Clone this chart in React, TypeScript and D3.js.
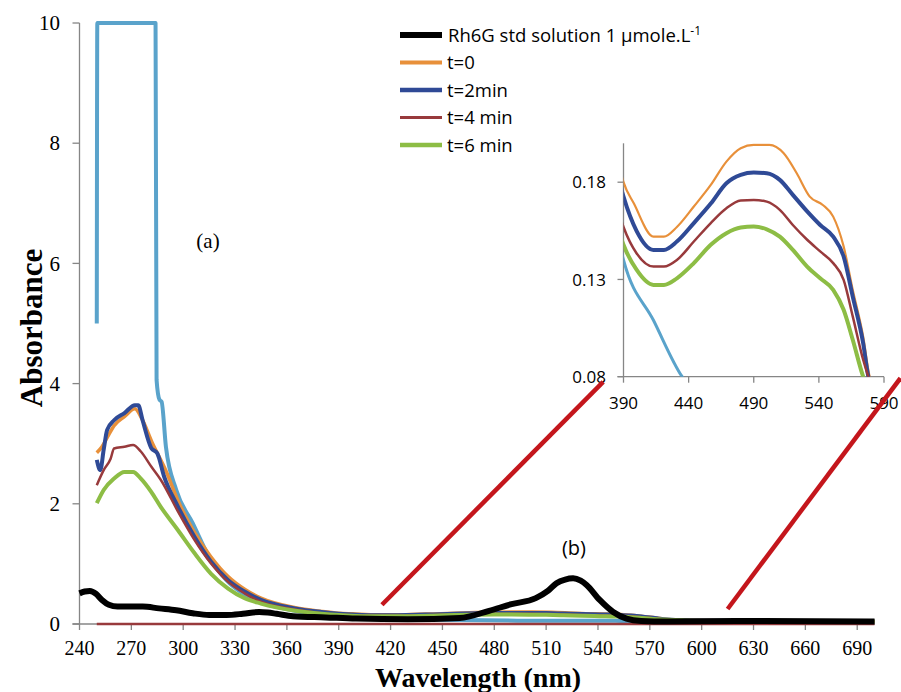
import * as d3 from "d3";

type Pt = [number, number];

// Rh6G standard solution (black)
const rh6gStd: Pt[] = [
  [240, 0.51], [243, 0.54], [246, 0.55], [249.6, 0.5], [253, 0.4], [257, 0.32], [262, 0.29],
  [267, 0.29], [276.6, 0.29], [286, 0.26], [296, 0.23], [305.5, 0.18], [315, 0.15], [325, 0.15],
  [334.5, 0.17], [344, 0.2], [349, 0.19], [354, 0.17], [363.5, 0.13], [382.5, 0.11], [400, 0.09],
  [430, 0.08], [460, 0.1], [477, 0.22], [490, 0.33], [504, 0.43], [511, 0.55], [516, 0.68],
  [521, 0.74], [525.6, 0.76], [530, 0.72], [533.4, 0.65], [541, 0.4], [548.8, 0.2], [556.5, 0.09],
  [565, 0.05], [580, 0.04], [620, 0.05], [700, 0.04],
];

const t0: Pt[] = [
  [250, 2.85], [253, 2.95], [256, 3.1], [260, 3.3], [266, 3.45], [272, 3.58], [276, 3.42],
  [282, 3.02], [290, 2.55], [297, 2.05], [306, 1.55], [316, 1.12], [326, 0.79], [336, 0.57],
  [345, 0.43], [365, 0.27], [380, 0.21], [390, 0.18], [398, 0.169], [413, 0.152], [421, 0.152],
  [431, 0.157], [444, 0.1675], [457, 0.1786], [469, 0.1906], [480, 0.1975], [490, 0.1992],
  [502, 0.1992], [513, 0.1949], [523, 0.1846], [533, 0.1726], [543, 0.1683], [551, 0.1623],
  [559, 0.147], [566, 0.1247], [574, 0.1007], [579, 0.08], [590, 0.065], [610, 0.055],
  [650, 0.048], [700, 0.042],
];

const t2: Pt[] = [
  [250, 2.73], [252, 2.56], [254, 2.9], [256, 3.23], [260, 3.39], [266, 3.51], [272, 3.64],
  [274, 3.64], [276.5, 3.39], [281.5, 2.93], [285, 2.84], [289, 2.45], [297, 1.95], [306.5, 1.45],
  [316, 1.04], [326, 0.73], [335.5, 0.54], [345, 0.4], [364.5, 0.26], [380, 0.2], [390, 0.1726],
  [400, 0.155], [413, 0.1452], [421, 0.1452], [431, 0.1495], [444, 0.159], [457, 0.169],
  [469, 0.1795], [480, 0.1838], [490, 0.185], [500, 0.1846], [510, 0.1812], [520, 0.1735],
  [531, 0.165], [541, 0.158], [551, 0.152], [559, 0.1418], [566, 0.1212], [574, 0.0972],
  [578, 0.08], [590, 0.063], [610, 0.054], [650, 0.047], [700, 0.041],
];

const t4: Pt[] = [
  [250, 2.31], [254, 2.56], [258, 2.75], [260, 2.92], [266, 2.95], [271, 2.98], [275.5, 2.87],
  [281.5, 2.62], [287, 2.4], [297, 1.87], [306.5, 1.4], [316, 1.01], [326, 0.7], [335.5, 0.51],
  [345, 0.37], [365, 0.24], [380, 0.18], [390, 0.157], [400, 0.1435], [413, 0.1366], [421, 0.1366],
  [431, 0.14], [444, 0.1495], [457, 0.159], [469, 0.1666], [480, 0.1706], [490, 0.1709],
  [500, 0.17], [510, 0.1658], [520, 0.158], [531, 0.1504], [541, 0.1444], [551, 0.1384],
  [559, 0.1298], [566, 0.111], [574, 0.0887], [578, 0.08], [590, 0.062], [610, 0.053],
  [650, 0.046], [700, 0.04],
];

const t6: Pt[] = [
  [250, 2.01], [254, 2.23], [260, 2.42], [266, 2.53], [271, 2.53], [275.5, 2.42], [281.5, 2.2],
  [287, 1.95], [297, 1.56], [306.5, 1.18], [316, 0.84], [326, 0.59], [335.5, 0.43], [345, 0.34],
  [365, 0.22], [380, 0.17], [390, 0.1478], [400, 0.135], [413, 0.1272], [421, 0.1272],
  [431, 0.1306], [444, 0.1384], [457, 0.1478], [469, 0.1538], [480, 0.1567], [490, 0.1572],
  [500, 0.1558], [510, 0.152], [520, 0.1452], [531, 0.1366], [541, 0.1306], [551, 0.1247],
  [559, 0.1144], [566, 0.099], [574, 0.08], [590, 0.06], [610, 0.05], [650, 0.044], [700, 0.04],
];

// unlabelled light blue trace (saturates at 10)
const sample: Pt[] = [
  [250, 5.0], [250.3, 10], [284, 10], [284.6, 4.06], [286.3, 3.73], [287.5, 3.7], [290, 2.95],
  [296, 2.23], [305.5, 1.68], [315, 1.12], [325, 0.73], [334.5, 0.51], [344, 0.37], [363, 0.23],
  [380, 0.17], [390, 0.14], [413, 0.109], [435, 0.08], [460, 0.065], [500, 0.055], [550, 0.055],
  [565, 0.03], [580, 0.02], [700, 0.02],
];

const baseline: Pt[] = [[250, 0], [700, 0]];

const mainXTicks = d3.range(240, 691, 30);
const mainYTicks = [0, 2, 4, 6, 8, 10];
const insetXTicks = [390, 440, 490, 540, 590];
const insetYTicks = [0.08, 0.13, 0.18];

const legendLabels = ["t=0", "t=2min", "t=4 min", "t=6 min"];
const legendColors = ["#E8903A", "#2F4A96", "#983A3C", "#8DBD45"];
const legendWidths = [4, 4.5, 3, 4.5];

// red guide lines joining region (b) to the inset, in main data units
const guides: Pt[][] = [
  [[415, 0.32], [543, 4.03]],
  [[615, 0.25], [715, 4.09]],
];

const W = 901;
const H = 692;

export default function App() {
  const x = d3.scaleLinear().domain([240, 700]).range([79.5, 874.5]);
  const y = d3.scaleLinear().domain([0, 10]).range([624, 23]);
  const ix = d3.scaleLinear().domain([390, 590]).range([623.5, 884]);
  const iy = d3.scaleLinear().domain([0.08, 0.2]).range([376.7, 143.3]);

  const line = d3.line<Pt>().x((d) => x(d[0])).y((d) => y(d[1])).curve(d3.curveMonotoneX);
  const iline = d3.line<Pt>().x((d) => ix(d[0])).y((d) => iy(d[1])).curve(d3.curveMonotoneX);
  const straight = d3.line<Pt>().x((d) => x(d[0])).y((d) => y(d[1]));

  const mainSeries = [
    { d: sample, c: "#5AA3CB", w: 4 },
    { d: baseline, c: "#983A3C", w: 2.5 },
    { d: t0, c: legendColors[0], w: 3.5 },
    { d: t2, c: legendColors[1], w: 4 },
    { d: t4, c: legendColors[2], w: 2.5 },
    { d: t6, c: legendColors[3], w: 4 },
    { d: rh6gStd, c: "#000", w: 6 },
  ];
  const insetSeries = [
    { d: sample, c: "#5AA3CB", w: 3 },
    { d: t0, c: legendColors[0], w: 2.2 },
    { d: t2, c: legendColors[1], w: 4 },
    { d: t4, c: legendColors[2], w: 2.5 },
    { d: t6, c: legendColors[3], w: 4 },
  ];

  const axisColor = "#868686";
  const serif = "Liberation Serif";
  const sans = "Open Sans";

  return (
    <div style={{ position: "absolute", left: 0, top: 0, background: "#fff" }}>
      <svg width={W} height={H} viewBox={`0 0 ${W} ${H}`}>
        <rect width={W} height={H} fill="#fff" />
        <defs>
          <clipPath id="insetClip">
            <rect x={ix(390)} y={iy(0.2)} width={ix(590) - ix(390)} height={iy(0.08) - iy(0.2)} />
          </clipPath>
        </defs>

        {/* main axes */}
        <line x1={x(240)} x2={x(240)} y1={y(10)} y2={y(0)} stroke={axisColor} strokeWidth={1.3} />
        <line x1={x(240) - 7} x2={x(700)} y1={y(0)} y2={y(0)} stroke={axisColor} strokeWidth={1.3} />
        {mainYTicks.map((t) => (
          <g key={"y" + t}>
            <line x1={x(240) - 7} x2={x(240)} y1={y(t)} y2={y(t)} stroke={axisColor} strokeWidth={1.3} />
            <text x={60} y={y(t)} dy="0.34em" textAnchor="end" fontFamily={serif} fontSize={21}>
              {t}
            </text>
          </g>
        ))}
        {mainXTicks.map((t) => (
          <g key={"x" + t}>
            <line x1={x(t)} x2={x(t)} y1={y(0)} y2={y(0) + 6} stroke={axisColor} strokeWidth={1.3} />
            <text x={x(t)} y={655} textAnchor="middle" fontFamily={serif} fontSize={20}>
              {t}
            </text>
          </g>
        ))}
        <text
          transform="translate(42,328) rotate(-90)"
          textAnchor="middle"
          fontFamily={serif}
          fontWeight="bold"
          fontSize={31}
        >
          Absorbance
        </text>
        <text x={478} y={687} textAnchor="middle" fontFamily={serif} fontWeight="bold" fontSize={28}>
          Wavelength (nm)
        </text>

        {/* main curves */}
        {mainSeries.map((s, i) => (
          <path key={"m" + i} d={line(s.d) || ""} fill="none" stroke={s.c} strokeWidth={s.w} strokeLinejoin="round" />
        ))}

        <text x={208} y={248} textAnchor="middle" fontFamily={serif} fontSize={21}>
          (a)
        </text>
        <text x={574} y={555} textAnchor="middle" fontFamily={sans} fontSize={20}>
          (b)
        </text>

        {/* legend */}
        <line x1={400} x2={442} y1={35} y2={35} stroke="#000" strokeWidth={6} />
        <text x={448} y={35} dy="0.36em" fontFamily={sans} fontSize={18.5}>
          Rh6G std solution 1 μmole.L
          <tspan dy="-7" fontSize={12}>-1</tspan>
        </text>
        {legendLabels.map((lab, i) => (
          <g key={lab} transform={`translate(0,${62.5 + i * 27.5})`}>
            <line x1={400} x2={442} y1={0} y2={0} stroke={legendColors[i]} strokeWidth={legendWidths[i]} />
            <text x={447} y={0} dy="0.36em" fontFamily={sans} fontSize={18.5}>
              {lab}
            </text>
          </g>
        ))}

        {/* inset */}
        <line x1={ix(390)} x2={ix(390)} y1={iy(0.2)} y2={iy(0.08)} stroke={axisColor} strokeWidth={1.3} />
        <line x1={ix(390) - 6} x2={ix(590)} y1={iy(0.08)} y2={iy(0.08)} stroke={axisColor} strokeWidth={1.3} />
        {insetYTicks.map((t) => (
          <g key={"iy" + t}>
            <line x1={ix(390) - 6} x2={ix(390)} y1={iy(t)} y2={iy(t)} stroke={axisColor} strokeWidth={1.3} />
            <text x={606} y={iy(t)} dy="0.36em" textAnchor="end" fontFamily={sans} fontSize={17}>
              {t.toFixed(2)}
            </text>
          </g>
        ))}
        {insetXTicks.map((t) => (
          <g key={"ix" + t}>
            <line x1={ix(t)} x2={ix(t)} y1={iy(0.08)} y2={iy(0.08) + 6} stroke={axisColor} strokeWidth={1.3} />
            <text x={ix(t)} y={409} textAnchor="middle" fontFamily={sans} fontSize={17}>
              {t}
            </text>
          </g>
        ))}
        <g clipPath="url(#insetClip)">
          {insetSeries.map((s, i) => (
            <path key={"i" + i} d={iline(s.d) || ""} fill="none" stroke={s.c} strokeWidth={s.w} strokeLinejoin="round" />
          ))}
        </g>

        {/* guide lines */}
        {guides.map((g, i) => (
          <path key={"g" + i} d={straight(g) || ""} stroke="#C4161C" strokeWidth={4.5} fill="none" />
        ))}
      </svg>
    </div>
  );
}
